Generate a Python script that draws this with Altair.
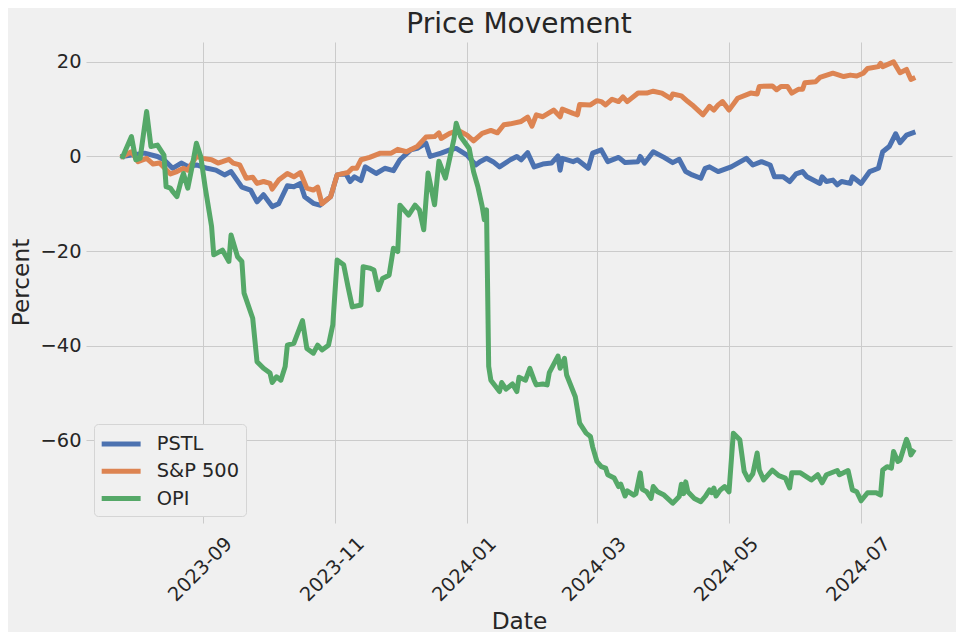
import altair as alt
import pandas as pd

# ---------------- data (percent change since start) ----------------
pstl_dates = [
    "2023-07-26", "2023-08-05", "2023-08-11", "2023-08-14", "2023-08-18", "2023-08-22",
    "2023-08-25", "2023-08-29", "2023-09-03", "2023-09-07", "2023-09-11", "2023-09-14",
    "2023-09-19", "2023-09-23", "2023-09-26", "2023-09-29", "2023-10-03", "2023-10-06",
    "2023-10-10", "2023-10-13", "2023-10-16", "2023-10-18", "2023-10-22", "2023-10-25",
    "2023-10-30", "2023-11-02", "2023-11-06", "2023-11-08", "2023-11-10", "2023-11-13",
    "2023-11-15", "2023-11-20", "2023-11-24", "2023-11-28", "2023-12-01", "2023-12-06",
    "2023-12-09", "2023-12-13", "2023-12-15", "2023-12-20", "2023-12-24", "2023-12-27",
    "2024-01-01", "2024-01-05", "2024-01-07", "2024-01-10", "2024-01-13", "2024-01-16",
    "2024-01-21", "2024-01-24", "2024-01-26", "2024-01-29", "2024-02-01", "2024-02-05",
    "2024-02-09", "2024-02-12", "2024-02-13", "2024-02-14", "2024-02-19", "2024-02-21",
    "2024-02-26", "2024-02-28", "2024-03-03", "2024-03-06", "2024-03-11", "2024-03-14",
    "2024-03-20", "2024-03-21", "2024-03-23", "2024-03-27", "2024-04-01", "2024-04-05",
    "2024-04-08", "2024-04-11", "2024-04-14", "2024-04-18", "2024-04-20", "2024-04-22",
    "2024-04-26", "2024-05-02", "2024-05-09", "2024-05-12", "2024-05-16", "2024-05-20",
    "2024-05-22", "2024-05-26", "2024-05-29", "2024-06-01", "2024-06-04", "2024-06-06",
    "2024-06-12", "2024-06-13", "2024-06-15", "2024-06-18", "2024-06-20", "2024-06-22",
    "2024-06-26", "2024-06-27", "2024-07-01", "2024-07-05", "2024-07-09", "2024-07-11",
    "2024-07-14", "2024-07-17", "2024-07-19", "2024-07-22", "2024-07-25",
]
pstl_pct = [
    0.0, 0.7, 0.0, -0.7, -2.5, -1.4,
    -2.1, -1.8, -2.5, -2.9, -3.9, -3.2,
    -6.5, -7.1, -9.6, -8.1, -10.6, -10.0,
    -6.2, -6.4, -5.7, -8.5, -9.9, -10.3,
    -8.5, -3.9, -3.6, -5.3, -4.3, -5.1,
    -2.2, -3.6, -2.5, -3.0, -0.7, 1.4,
    1.7, 2.8, 0.0, 0.7, 1.4, 1.7,
    0.3, -1.8, -1.1, -0.4, -1.1, -2.2,
    -0.7, 0.0, -0.7, 0.8, -2.2, -1.6,
    -1.4, 0.1, -2.9, -0.4, -1.1, -0.7,
    -2.5, 0.7, 1.4, -1.1, -0.2, -1.3,
    -1.1, 0.0, -1.4, 1.0, -0.2, -1.3,
    -0.6, -3.2, -3.9, -4.6, -2.5, -2.2,
    -3.2, -2.2, -0.4, -1.8, -1.1, -1.8,
    -4.3, -4.3, -5.3, -3.7, -3.2, -4.3,
    -5.7, -4.3, -5.3, -5.0, -6.0, -5.3,
    -5.7, -4.3, -5.7, -3.2, -2.5, 1.0,
    2.1, 4.8, 2.9, 4.5, 5.0,
]

sp500_dates = [
    "2023-07-26", "2023-07-30", "2023-08-02", "2023-08-06", "2023-08-09", "2023-08-12",
    "2023-08-17", "2023-08-20", "2023-08-23", "2023-08-25", "2023-08-29", "2023-09-01",
    "2023-09-05", "2023-09-08", "2023-09-10", "2023-09-13", "2023-09-15", "2023-09-18",
    "2023-09-21", "2023-09-24", "2023-09-26", "2023-09-29", "2023-10-02", "2023-10-03",
    "2023-10-06", "2023-10-10", "2023-10-13", "2023-10-16", "2023-10-19", "2023-10-22",
    "2023-10-24", "2023-10-26", "2023-10-30", "2023-11-02", "2023-11-07", "2023-11-09",
    "2023-11-11", "2023-11-13", "2023-11-17", "2023-11-22", "2023-11-27", "2023-11-30",
    "2023-12-04", "2023-12-09", "2023-12-13", "2023-12-17", "2023-12-19", "2023-12-20",
    "2023-12-24", "2023-12-28", "2024-01-01", "2024-01-04", "2024-01-08", "2024-01-12",
    "2024-01-15", "2024-01-18", "2024-01-21", "2024-01-26", "2024-01-29", "2024-01-31",
    "2024-02-02", "2024-02-05", "2024-02-10", "2024-02-13", "2024-02-14", "2024-02-19",
    "2024-02-21", "2024-02-22", "2024-02-27", "2024-03-01", "2024-03-03", "2024-03-05",
    "2024-03-08", "2024-03-11", "2024-03-13", "2024-03-15", "2024-03-20", "2024-03-24",
    "2024-03-27", "2024-03-31", "2024-04-04", "2024-04-05", "2024-04-09", "2024-04-12",
    "2024-04-14", "2024-04-19", "2024-04-22", "2024-04-24", "2024-04-26", "2024-04-28",
    "2024-05-01", "2024-05-05", "2024-05-11", "2024-05-14", "2024-05-15", "2024-05-21",
    "2024-05-23", "2024-05-25", "2024-05-28", "2024-05-30", "2024-06-02", "2024-06-04",
    "2024-06-05", "2024-06-10", "2024-06-12", "2024-06-18", "2024-06-23", "2024-06-26",
    "2024-06-29", "2024-07-02", "2024-07-04", "2024-07-09", "2024-07-10", "2024-07-11",
    "2024-07-16", "2024-07-19", "2024-07-22", "2024-07-24", "2024-07-25",
]
sp500_pct = [
    0.0, 1.0, -1.1, -0.4, -1.6, -1.4,
    -3.7, -3.2, -2.5, -2.9, 0.0, -0.4,
    -0.7, -1.4, -1.1, -0.6, -1.4, -1.8,
    -4.6, -4.4, -5.7, -5.3, -5.7, -6.9,
    -5.0, -3.6, -4.3, -3.4, -6.7, -7.1,
    -6.5, -10.0, -8.5, -3.9, -3.4, -2.5,
    -2.5, -0.7, -0.2, 0.7, 0.7, 1.5,
    1.0, 2.1, 4.1, 4.2, 5.0, 3.8,
    4.9, 5.5, 4.5, 3.3, 4.9, 5.5,
    5.0, 6.7, 6.9, 7.4, 8.3, 6.4,
    8.8, 8.4, 9.8, 8.4, 10.0, 9.1,
    8.8, 11.0, 10.9, 11.8, 11.6, 10.9,
    12.1, 11.6, 12.6, 11.6, 13.4, 13.4,
    13.8, 13.4, 12.3, 13.2, 12.8, 11.6,
    10.9, 8.8, 10.6, 9.8, 10.9, 11.6,
    9.8, 12.3, 13.4, 13.2, 14.8, 14.9,
    14.1, 14.8, 14.8, 13.4, 14.2, 14.2,
    15.6, 15.8, 16.7, 17.6, 16.9, 17.2,
    17.0, 17.6, 18.6, 19.0, 19.7, 19.0,
    20.0, 17.7, 18.4, 16.3, 16.5,
]

opi_dates = [
    "2023-07-26", "2023-07-30", "2023-08-01", "2023-08-03", "2023-08-06", "2023-08-08",
    "2023-08-11", "2023-08-14", "2023-08-15", "2023-08-17", "2023-08-18", "2023-08-20",
    "2023-08-22", "2023-08-23", "2023-08-25", "2023-08-27", "2023-08-29", "2023-08-31",
    "2023-09-02", "2023-09-05", "2023-09-06", "2023-09-10", "2023-09-13", "2023-09-14",
    "2023-09-17", "2023-09-19", "2023-09-20", "2023-09-24", "2023-09-26", "2023-09-29",
    "2023-10-02", "2023-10-03", "2023-10-05", "2023-10-07", "2023-10-09", "2023-10-10",
    "2023-10-13", "2023-10-17", "2023-10-19", "2023-10-22", "2023-10-24", "2023-10-26",
    "2023-10-29", "2023-10-31", "2023-11-02", "2023-11-05", "2023-11-07", "2023-11-09",
    "2023-11-13", "2023-11-14", "2023-11-17", "2023-11-19", "2023-11-21", "2023-11-23",
    "2023-11-26", "2023-11-28", "2023-11-30", "2023-12-01", "2023-12-05", "2023-12-08",
    "2023-12-10", "2023-12-12", "2023-12-14", "2023-12-17", "2023-12-19", "2023-12-22",
    "2023-12-26", "2023-12-27", "2023-12-29", "2024-01-02", "2024-01-04", "2024-01-06",
    "2024-01-08", "2024-01-09", "2024-01-10", "2024-01-11", "2024-01-12", "2024-01-16",
    "2024-01-17", "2024-01-19", "2024-01-22", "2024-01-24", "2024-01-25", "2024-01-28",
    "2024-01-30", "2024-02-01", "2024-02-02", "2024-02-05", "2024-02-07", "2024-02-08",
    "2024-02-12", "2024-02-13", "2024-02-15", "2024-02-16", "2024-02-20", "2024-02-21",
    "2024-02-22", "2024-02-25", "2024-02-27", "2024-02-28", "2024-03-01", "2024-03-03",
    "2024-03-05", "2024-03-06", "2024-03-09", "2024-03-11", "2024-03-12", "2024-03-14",
    "2024-03-15", "2024-03-18", "2024-03-19", "2024-03-21", "2024-03-22", "2024-03-24",
    "2024-03-26", "2024-03-27", "2024-03-29", "2024-04-01", "2024-04-05", "2024-04-08",
    "2024-04-09", "2024-04-10", "2024-04-11", "2024-04-12", "2024-04-15", "2024-04-18",
    "2024-04-20", "2024-04-22", "2024-04-23", "2024-04-24", "2024-04-25", "2024-04-27",
    "2024-04-29", "2024-05-01", "2024-05-03", "2024-05-06", "2024-05-08", "2024-05-10",
    "2024-05-12", "2024-05-14", "2024-05-15", "2024-05-17", "2024-05-21", "2024-05-24",
    "2024-05-27", "2024-05-29", "2024-05-30", "2024-06-03", "2024-06-08", "2024-06-11",
    "2024-06-13", "2024-06-15", "2024-06-20", "2024-06-21", "2024-06-25", "2024-06-27",
    "2024-06-29", "2024-07-01", "2024-07-04", "2024-07-08", "2024-07-10", "2024-07-11",
    "2024-07-13", "2024-07-15", "2024-07-16", "2024-07-18", "2024-07-19", "2024-07-22",
    "2024-07-23", "2024-07-24", "2024-07-25",
]
opi_pct = [
    0.0, 4.2, -0.7, -0.4, 9.5, 2.1,
    2.4, 0.3, -6.4, -6.7, -7.4, -8.5,
    -5.0, -3.6, -6.7, -2.2, 2.8, 0.0,
    -6.4, -14.8, -20.8, -19.8, -22.2, -16.6,
    -21.2, -22.2, -28.9, -34.2, -43.4, -44.8,
    -45.8, -47.8, -46.6, -47.3, -44.4, -39.9,
    -39.5, -34.7, -40.6, -41.6, -39.9, -40.9,
    -39.9, -35.6, -21.9, -22.9, -27.5, -31.8,
    -31.4, -23.3, -23.6, -24.0, -28.2, -25.8,
    -25.1, -19.4, -20.1, -10.3, -12.4, -10.3,
    -11.3, -15.5, -3.5, -10.2, -1.0, -4.6,
    3.8, 7.0, 4.2, 1.7, -3.2, -6.4,
    -10.6, -13.4, -11.3, -44.4, -47.3, -49.7,
    -47.8, -49.2, -48.1, -49.7, -46.7, -47.3,
    -44.8, -47.3, -48.3, -48.1, -48.3, -45.7,
    -42.2, -44.8, -42.7, -46.2, -50.8, -53.6,
    -56.4, -58.5, -59.2, -61.4, -64.5, -65.6,
    -65.9, -67.3, -68.0, -69.8, -69.3, -71.8,
    -70.7, -71.6, -71.3, -66.9, -70.4, -70.9,
    -72.3, -69.8, -70.9, -71.6, -73.3, -71.9,
    -69.3, -71.3, -68.8, -70.9, -72.3, -73.0,
    -71.9, -70.5, -71.1, -70.1, -71.8, -70.5,
    -69.8, -70.9, -58.5, -59.9, -66.6, -68.4,
    -67.1, -62.7, -66.3, -68.4, -66.3, -67.5,
    -68.0, -70.1, -66.9, -66.9, -68.4, -67.3,
    -69.0, -67.3, -66.4, -67.3, -66.4, -70.5,
    -70.9, -72.8, -71.1, -71.1, -71.6, -66.3,
    -65.6, -65.9, -62.4, -64.5, -64.2, -59.8,
    -61.0, -63.1, -62.4,
]

series_names = ["PSTL", "S&P 500", "OPI"]
series_colors = ["#4C72B0", "#DD8452", "#55A868"]
y_ticks = [-60, -40, -20, 0, 20]
x_tick_months = [(2023, 9), (2023, 11), (2024, 1), (2024, 3), (2024, 5), (2024, 7)]

# ---------------- table ----------------
rows = []
for name, ds, vs in [("PSTL", pstl_dates, pstl_pct),
                     ("S&P 500", sp500_dates, sp500_pct),
                     ("OPI", opi_dates, opi_pct)]:
    for d, v in zip(ds, vs):
        rows.append({"Date": d, "Percent": v, "Series": name})
df = pd.DataFrame(rows)

FONT = "DejaVu Sans"
TXT = "#262626"

x_axis = alt.Axis(
    values=[alt.DateTime(year=y, month=m, date=1, utc=True) for y, m in x_tick_months],
    labelExpr="utcFormat(datum.value, '%Y-%m')",
    labelAngle=315, labelAlign="center", labelBaseline="middle", labelPadding=46,
    labelOffset=-3,
    labelOverlap=False, labelFlush=False, labelBound=False,
    labelFont=FONT, labelFontSize=19.4, labelColor=TXT,
    tickSize=0, domain=False,
    grid=True, gridColor="#cbcbcb", gridWidth=1,
    title="Date", titleFont=FONT, titleFontSize=23.3, titleFontWeight="normal",
    titleColor=TXT, titleY=105, titleBaseline="alphabetic",
)
y_axis = alt.Axis(
    values=y_ticks,
    labelFont=FONT, labelFontSize=19.4, labelColor=TXT, labelPadding=5,
    tickSize=0, domain=False,
    grid=True, gridColor="#cbcbcb", gridWidth=1,
    title="Percent", titleFont=FONT, titleFontSize=23.3, titleFontWeight="normal",
    titleColor=TXT, titleX=-65, titleY=240, titleAngle=270, titleBaseline="middle",
    titleAlign="center",
)

legend = alt.Legend(
    title=None, orient="none", legendX=8, legendY=382, direction="vertical",
    symbolType="M-1.12,0L2.42,0", symbolSize=484, symbolStrokeWidth=5,
    symbolFillColor="transparent",
    labelFont=FONT, labelFontSize=19.4, labelColor=TXT, labelOffset=29.2,
    rowPadding=3.3, padding=6.5,
    fillColor="#f0f0f0", strokeColor="#d5d5d5", cornerRadius=4,
)

chart = alt.Chart(df).mark_line(
    strokeWidth=5, strokeJoin="round", strokeCap="square"
).encode(
    x=alt.X("Date:T", axis=x_axis,
            scale=alt.Scale(type="utc",
                            domain=[alt.DateTime(year=2023, month=7, date=9, utc=True),
                                    alt.DateTime(year=2024, month=8, date=12, utc=True)])),
    y=alt.Y("Percent:Q", axis=y_axis,
            scale=alt.Scale(domain=[-77.5, 24.2], nice=False, zero=False)),
    color=alt.Color("Series:N",
                    scale=alt.Scale(domain=series_names, range=series_colors),
                    legend=legend),
).properties(
    width=866, height=481,
    title=alt.TitleParams("Price Movement", font=FONT, fontSize=28,
                          fontWeight="normal", color=TXT, anchor="middle",
                          offset=3),
    autosize=alt.AutoSizeParams(type="none"),
    padding={"left": 78, "top": 34, "right": 4, "bottom": 109},
    background="#f0f0f0",
).configure_view(
    fill="#f0f0f0", strokeWidth=0
)

chart.save("out.html", embed_options={"renderer": "svg", "actions": False})
